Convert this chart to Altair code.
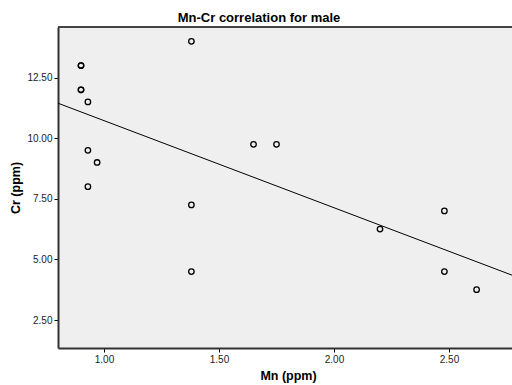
import altair as alt
import pandas as pd

mn = [1.38, 0.90, 0.90, 0.90, 0.90, 0.93, 0.93, 0.97, 0.93, 1.38, 1.38, 1.65, 1.75, 2.20, 2.48, 2.48, 2.62]
cr = [14.00, 13.00, 13.00, 12.00, 12.00, 11.50, 9.50, 9.00, 8.00, 7.25, 4.50, 9.75, 9.75, 6.25, 7.00, 4.50, 3.75]
x_ticks = [1.0, 1.5, 2.0, 2.5]
y_ticks = [2.5, 5.0, 7.5, 10.0, 12.5]

df = pd.DataFrame({"Mn": mn, "Cr": cr})

W, H = 454, 321
XDOM = [0.8, 0.8 + W / 230.0]
YDOM = [1.345, 14.59]
FONT = "Liberation Sans"

common = dict(grid=False, domain=True, domainColor="#333", domainWidth=2,
              tickColor="black", tickSize=4, tickWidth=1,
              labelFontSize=10, labelColor="#222", labelFont=FONT, labelPadding=2,
              titleFont=FONT, titleFontSize=12.5, titleFontWeight="bold", titleColor="black",
              titleBaseline="alphabetic")

xenc = alt.X("Mn:Q", scale=alt.Scale(domain=XDOM, nice=False, zero=False),
             axis=alt.Axis(values=x_ticks, format=".2f", title="Mn (ppm)",
                           titleX=230, titleY=31, **common))
yenc = alt.Y("Cr:Q", scale=alt.Scale(domain=YDOM, nice=False, zero=False),
             axis=alt.Axis(values=y_ticks, format=".2f", title="Cr (ppm)",
                           titleX=-39, titleY=160.5, titleAngle=-90, titleAlign="center",
                           **common))

base = alt.Chart(df)

points = base.mark_point(shape="circle", filled=False, color="black", size=30,
                         strokeWidth=1.3, opacity=1).encode(x=xenc, y=yenc)

line = base.transform_regression("Mn", "Cr", extent=XDOM).mark_line(
    color="black", strokeWidth=1, clip=True).encode(x=alt.X("Mn:Q"), y=alt.Y("Cr:Q"))

top_border = alt.Chart(df).mark_rule(color="#444", strokeWidth=1.5).encode(
    x=alt.value(0), x2=alt.value(W), y=alt.value(0))

chart = alt.layer(line, points, top_border).properties(
    width=W, height=H,
    title=alt.TitleParams("Mn-Cr correlation for male", font=FONT, fontSize=13, fontWeight="bold",
                          color="black", anchor="middle", dx=-26, dy=1.5, offset=3),
    autosize=alt.AutoSizeParams(type="none"),
    padding={"left": 58, "top": 27, "right": 0, "bottom": 37},
    background="white",
).configure_view(fill="#EFEFEF", strokeWidth=0)

chart.save("out.html", embed_options={"renderer": "svg", "actions": False})
